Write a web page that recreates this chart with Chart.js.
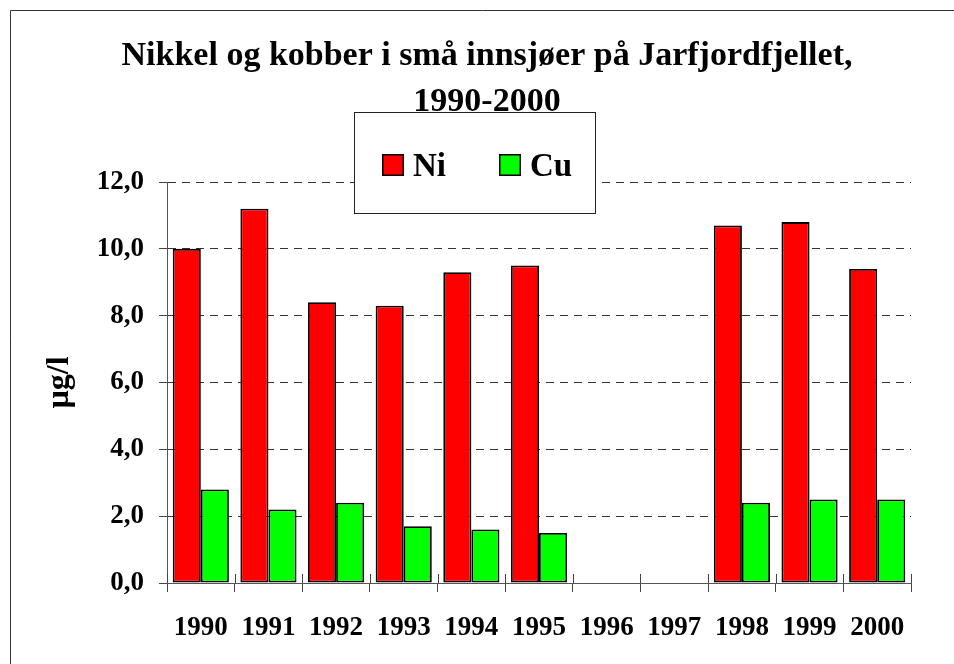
<!DOCTYPE html>
<html><head><meta charset="utf-8">
<script src="https://cdn.jsdelivr.net/npm/chart.js@4/dist/chart.umd.min.js"></script>
<style>html,body{margin:0;padding:0;background:#fff}#wrap{width:954px;height:664px;position:relative}</style>
</head><body><div id="wrap"><canvas id="c" width="954" height="664"></canvas></div>
<script>
const years = ['1990','1991','1992','1993','1994','1995','1996','1997','1998','1999','2000'];
const nickel = [10.0, 11.2, 8.4, 8.3, 9.3, 9.5, null, null, 10.7, 10.8, 9.4];
const copper = [2.8, 2.2, 2.4, 1.7, 1.6, 1.5, null, null, 2.4, 2.5, 2.5];
const seriesNames = ['Ni', 'Cu'];
const yTickLabels = ['0,0','2,0','4,0','6,0','8,0','10,0','12,0'];
const titleLines = ['Nikkel og kobber i små innsjøer på Jarfjordfjellet,', '1990-2000'];
const yAxisTitle = 'µg/l';

const SERIF = "'Liberation Serif', 'Times New Roman', serif";

const decor = {
  id: 'decor',
  beforeDatasetsDraw(chart) {
    const ctx = chart.ctx, xs = chart.scales.x, y0 = chart.chartArea.bottom;
    ctx.save();
    ctx.strokeStyle = '#444'; ctx.lineWidth = 1;
    const n = years.length;
    for (let i = 0; i <= n; i++) {
      const px = Math.round(xs.getPixelForValue(i - 0.5)) + 0.5;
      ctx.beginPath(); ctx.moveTo(px, y0 - 9); ctx.lineTo(px, y0); ctx.stroke();
    }
    ctx.restore();
  },
  afterDraw(chart) {
    const ctx = chart.ctx;
    ctx.save();
    ctx.strokeStyle = '#333'; ctx.lineWidth = 1;
    ctx.beginPath(); ctx.moveTo(10.5, 664); ctx.lineTo(10.5, 10.5); ctx.lineTo(954, 10.5); ctx.stroke();
    ctx.fillStyle = '#000';
    ctx.font = "bold 34px " + SERIF;
    ctx.textAlign = 'center'; ctx.textBaseline = 'alphabetic';
    ctx.fillText(titleLines[0], 487, 65);
    ctx.fillText(titleLines[1], 487, 111);
    ctx.fillStyle = '#fff';
    ctx.fillRect(354, 112, 242, 102);
    ctx.strokeStyle = '#222';
    ctx.strokeRect(354.5, 112.5, 241, 101);
    const items = [{x: 382, tx: 413}, {x: 499, tx: 530}];
    chart.data.datasets.forEach((ds, i) => {
      const it = items[i];
      ctx.fillStyle = ds.backgroundColor;
      ctx.fillRect(it.x, 154, 22, 22);
      ctx.strokeStyle = '#000'; ctx.lineWidth = 1.5;
      ctx.strokeRect(it.x + 0.75, 154.75, 20.5, 20.5);
      ctx.fillStyle = '#000';
      ctx.font = "bold 33px " + SERIF;
      ctx.textAlign = 'left'; ctx.textBaseline = 'alphabetic';
      ctx.fillText(ds.label, it.tx, 176);
    });
    ctx.restore();
  }
};

new Chart(document.getElementById('c'), {
  type: 'bar',
  data: {
    labels: years,
    datasets: [
      { label: seriesNames[0], data: nickel, backgroundColor: '#FF0000', borderColor: '#000', borderWidth: 1.8, borderSkipped: false },
      { label: seriesNames[1], data: copper, backgroundColor: '#00FF00', borderColor: '#000', borderWidth: 1.8, borderSkipped: false }
    ]
  },
  options: {
    responsive: false,
    animation: false,
    devicePixelRatio: 1,
    layout: { padding: { top: 182, right: 43, left: 0, bottom: 0 } },
    datasets: { bar: { categoryPercentage: 0.83, barPercentage: 1.0 } },
    plugins: { legend: { display: false }, title: { display: false }, tooltip: { enabled: false } },
    scales: {
      x: {
        afterFit(s) { s.height = 81; },
        grid: { display: true, drawOnChartArea: false, drawTicks: true, tickLength: 9, color: '#444', offset: true, tickBorderDash: [] },
        border: { display: true, color: '#555', width: 1 },
        ticks: { color: '#000', font: { family: SERIF, size: 27, weight: 'bold' }, padding: 20, maxRotation: 0, autoSkip: false }
      },
      y: {
        min: 0, max: 12,
        afterFit(s) { s.width = 167; },
        grid: { color: '#333', drawTicks: true, tickLength: 8, tickColor: '#444', tickBorderDash: [] },
        border: { display: true, color: '#555', width: 1, dash: [8, 6] },
        ticks: { stepSize: 2, color: '#000', font: { family: SERIF, size: 27, weight: 'bold' }, padding: 15,
                 callback: (v, i) => yTickLabels[i] },
        title: { display: true, text: yAxisTitle, color: '#000', font: { family: SERIF, size: 32, weight: 'bold' }, padding: { top: 41 } }
      }
    }
  },
  plugins: [decor]
});
</script></body></html>
